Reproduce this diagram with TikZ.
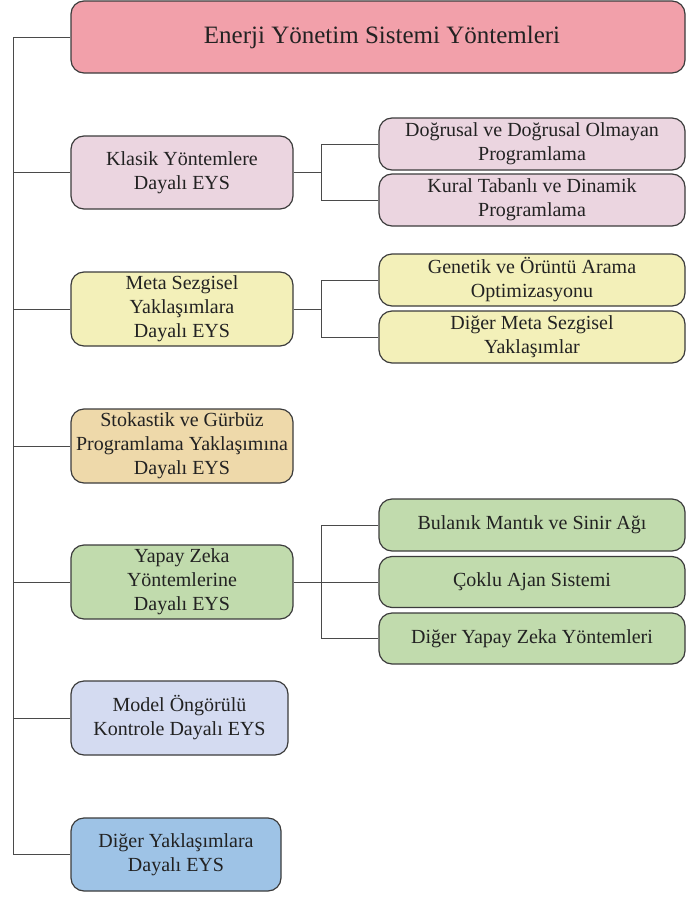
\documentclass[tikz,border=0pt]{standalone}
\usepackage{fontspec}
\setmainfont{Liberation Serif}
\definecolor{cTop}{HTML}{F2A0AA}
\definecolor{cKlasik}{HTML}{EBD5E0}
\definecolor{cMeta}{HTML}{F3F0B9}
\definecolor{cStok}{HTML}{EED9AA}
\definecolor{cYZ}{HTML}{C1DBAD}
\definecolor{cModel}{HTML}{D4DBF1}
\definecolor{cDiger}{HTML}{9EC3E6}
\definecolor{edge}{HTML}{3C3C3C}
\definecolor{wire}{HTML}{4A4A4A}
\definecolor{ink}{HTML}{222222}
\tikzset{
  box/.style={draw=edge, line width=1.2pt, rounded corners=13pt, inner sep=0pt,
    align=center, text=ink, font=\fontsize{20}{24}\selectfont},
  mainbox/.style={box, minimum width=222pt, minimum height=73pt},
  subbox/.style={box, minimum width=306pt, minimum height=52pt},
  wirestyle/.style={draw=wire, line width=1pt}
}
\begin{document}
\begin{tikzpicture}[x=1pt,y=-1pt]
\useasboundingbox (0,0) rectangle (686,897);
\fill[white] (0,0) rectangle (686,897);

% root
\node[box, fill=cTop, minimum width=614pt, minimum height=72pt,
  font=\fontsize{25}{30}\selectfont] (top) at (378,37) {\hspace*{8pt}Enerji Yönetim Sistemi Yöntemleri};

% main categories
\node[mainbox, fill=cKlasik] (k) at (182,172.5) {Klasik Yöntemlere\\Dayalı EYS};
\node[mainbox, fill=cMeta, minimum height=74pt] (m) at (182,309) {Meta Sezgisel\\Yaklaşımlara\\Dayalı EYS};
\node[mainbox, fill=cStok, minimum height=74pt] (s) at (182,446) {Stokastik ve Gürbüz\\Programlama Yaklaşımına\\Dayalı EYS};
\node[mainbox, fill=cYZ, minimum height=74pt] (y) at (182,582) {Yapay Zeka\\Yöntemlerine\\Dayalı EYS};
\node[mainbox, fill=cModel, minimum width=217pt, minimum height=74pt] (mo) at (179.5,718) {Model Öngörülü\\Kontrole Dayalı EYS};
\node[mainbox, fill=cDiger, minimum width=210pt] (d) at (176,854.5) {Diğer Yaklaşımlara\\Dayalı EYS};

% sub categories
\node[subbox, fill=cKlasik] (k1) at (532,144) {Doğrusal ve Doğrusal Olmayan\\Programlama};
\node[subbox, fill=cKlasik] (k2) at (532,200) {Kural Tabanlı ve Dinamik\\Programlama};
\node[subbox, fill=cMeta] (m1) at (532,280) {Genetik ve Örüntü Arama\\Optimizasyonu};
\node[subbox, fill=cMeta] (m2) at (532,337) {Diğer Meta Sezgisel\\Yaklaşımlar};
\node[subbox, fill=cYZ] (y1) at (532,525) {Bulanık Mantık ve Sinir Ağı};
\node[subbox, fill=cYZ, minimum height=51pt] (y2) at (532,582) {Çoklu Ajan Sistemi};
\node[subbox, fill=cYZ, minimum height=51pt] (y3) at (532,638.5) {Diğer Yapay Zeka Yöntemleri};

% trunk on the left
\coordinate (ta) at (13,37);
\coordinate (tb) at (13,854.5);
\draw[wirestyle] (top.west) -- (ta) -- (tb) -- (d.west);
\foreach \n in {k,m,s,y,mo} \draw[wirestyle] (ta |- \n.west) -- (\n.west);

% branch junctions
\coordinate (jx) at (321,0);
\draw[wirestyle] (k.east) -- (k.east -| jx);
\draw[wirestyle] (k1.west) -| (jx |- k2.west) -- (k2.west);
\draw[wirestyle] (m.east) -- (m.east -| jx);
\draw[wirestyle] (m1.west) -| (jx |- m2.west) -- (m2.west);
\draw[wirestyle] (y.east) -- (y2.west);
\draw[wirestyle] (y1.west) -| (jx |- y3.west) -- (y3.west);
\end{tikzpicture}
\end{document}
